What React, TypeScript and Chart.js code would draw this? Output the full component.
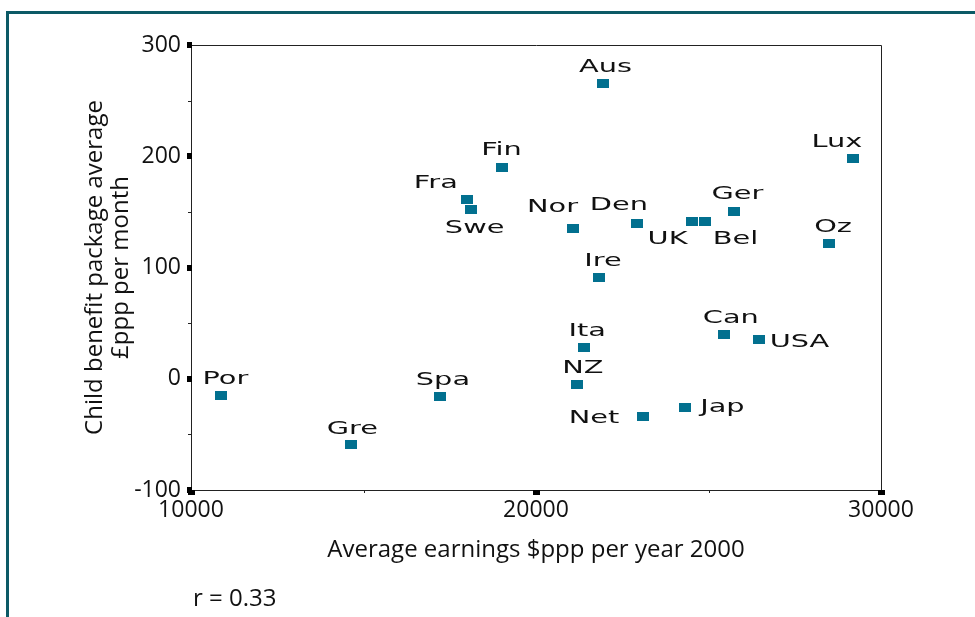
import React, { useEffect, useRef } from 'react';
import { Chart, registerables } from 'chart.js';

Chart.register(...registerables);

const COUNTRIES = ['Por', 'Gre', 'Spa', 'Fra', 'Swe', 'Fin', 'Aus', 'Nor', 'Den', 'UK', 'Bel', 'Ger', 'Lux', 'Oz', 'Ire', 'Ita', 'NZ', 'Can', 'USA', 'Net', 'Jap'];
const EARNINGS = [10880, 14650, 17230, 18010, 18120, 19000, 21930, 21060, 22940, 24510, 24910, 25750, 29200, 28480, 21840, 21380, 21200, 25460, 26450, 23090, 24330];
const BENEFIT = [-15.5, -59, -16, 161.5, 152, 190, 265, 135, 140, 141.5, 141.5, 150.3, 198, 122, 90.6, 28.5, -5, 40, 35, -34, -26];

const X_TICKS = [10000, 20000, 30000];
const Y_TICKS = [-100, 0, 100, 200, 300];
const X_MINOR = [15000, 25000];
const Y_MINOR = [-50, 50, 150, 250];

const X_TITLE = 'Average earnings $ppp per year 2000';
const Y_TITLE = ['Child benefit package average', '£ppp per month'];
const NOTE = 'r = 0.33';

// label placement relative to each marker (text centre offset, px)
const LABEL_OFFSETS: Record<string, [number, number]> = {
  Por: [4, -18], Gre: [1, -17], Spa: [2.5, -18], Fra: [-31.5, -18], Swe: [3.5, 16.5],
  Fin: [0, -19], Aus: [3, -18], Nor: [-20, -23.5], Den: [-18.5, -20], UK: [-24, 16],
  Bel: [30, 16], Ger: [3, -19], Lux: [-16.5, -18], Oz: [4.5, -18], Ire: [3.5, -18],
  Ita: [3.5, -18], NZ: [5.5, -18], Can: [6.5, -18], USA: [41, 1], Net: [-48.5, 0], Jap: [37, -2],
};

const MARKER_COLOR = '#02708f';
const AXIS_COLOR = '#222222';
const TEXT_COLOR = '#111111';
const UI_FONT = '"Open Sans", "Noto Sans", sans-serif';

export default function App() {
  const canvasRef = useRef<HTMLCanvasElement | null>(null);

  useEffect(() => {
    const canvas = canvasRef.current;
    if (!canvas) return;

    const marker = document.createElement('canvas');
    marker.width = 12;
    marker.height = 9;
    const mctx = marker.getContext('2d')!;
    mctx.fillStyle = MARKER_COLOR;
    mctx.fillRect(0, 0, 12, 9);

    const overlay = {
      id: 'overlay',
      afterDraw(chart: any) {
        const { ctx, chartArea, scales } = chart;
        const xs = scales.x;
        const ys = scales.y;
        const { left, right, top, bottom } = chartArea;
        ctx.save();
        // box
        ctx.strokeStyle = AXIS_COLOR;
        ctx.lineWidth = 1;
        ctx.beginPath();
        ctx.moveTo(left + 0.5, top + 0.5);
        ctx.lineTo(right + 0.5, top + 0.5);
        ctx.lineTo(right + 0.5, bottom + 0.5);
        ctx.lineTo(left + 0.5, bottom + 0.5);
        ctx.closePath();
        ctx.stroke();
        // major ticks
        ctx.fillStyle = '#000';
        Y_TICKS.forEach((v) => {
          const y = Math.round(ys.getPixelForValue(v));
          ctx.fillRect(left - 4, y - 3, 5, 6);
        });
        X_TICKS.forEach((v) => {
          const x = Math.round(xs.getPixelForValue(v));
          ctx.fillRect(x - 3, bottom, 7, 5);
        });
        // minor ticks
        ctx.beginPath();
        Y_MINOR.forEach((v) => {
          const y = Math.round(ys.getPixelForValue(v)) + 0.5;
          ctx.moveTo(left - 3, y);
          ctx.lineTo(left, y);
        });
        X_MINOR.forEach((v) => {
          const x = Math.round(xs.getPixelForValue(v)) + 0.5;
          ctx.moveTo(x, bottom);
          ctx.lineTo(x, bottom + 3);
        });
        ctx.stroke();

        // point labels
        ctx.fillStyle = TEXT_COLOR;
        ctx.font = '18px "DejaVu Sans"';
        ctx.textAlign = 'center';
        ctx.textBaseline = 'alphabetic';
        COUNTRIES.forEach((name, i) => {
          const px = xs.getPixelForValue(EARNINGS[i]);
          const py = ys.getPixelForValue(BENEFIT[i]);
          const [dx, dy] = LABEL_OFFSETS[name] || [0, -18];
          ctx.save();
          ctx.translate(px + dx, py + dy + 6.5);
          ctx.scale(1.6, 1);
          ctx.fillText(name, 0, 0);
          ctx.restore();
        });

        // axis titles
        ctx.font = `24px ${UI_FONT}`;
        ctx.textAlign = 'center';
        ctx.fillText(X_TITLE, (left + right) / 2, 557);
        const cy = (top + bottom) / 2;
        const baselines = [102, 128];
        Y_TITLE.forEach((line, i) => {
          ctx.save();
          ctx.translate(baselines[i], cy);
          ctx.rotate(-Math.PI / 2);
          ctx.fillText(line, 0, 0);
          ctx.restore();
        });
        ctx.textAlign = 'left';
        ctx.fillText(NOTE, 193, 606);
        ctx.restore();
      },
    };

    const chart = new Chart(canvas, {
      type: 'scatter',
      data: {
        datasets: [
          {
            label: 'Countries',
            data: EARNINGS.map((x, i) => ({ x, y: BENEFIT[i] })),
            pointStyle: marker as any,
            pointRadius: 6,
            pointHoverRadius: 6,
            backgroundColor: MARKER_COLOR,
            borderColor: MARKER_COLOR,
          },
        ],
      },
      options: {
        animation: false,
        responsive: false,
        maintainAspectRatio: false,
        devicePixelRatio: 1,
        events: [],
        layout: { padding: { left: 0, top: 45, right: 94, bottom: 0 } },
        plugins: { legend: { display: false }, tooltip: { enabled: false }, title: { display: false } },
        scales: {
          x: {
            type: 'linear',
            min: 10000,
            max: 30000,
            afterFit: (s: any) => { s.height = 127; },
            afterBuildTicks: (s: any) => { s.ticks = X_TICKS.map((v) => ({ value: v })); },
            grid: { display: false, drawTicks: false },
            border: { display: false },
            ticks: {
              padding: 7,
              color: TEXT_COLOR,
              font: { family: UI_FONT, size: 23 },
              callback: (v: any) => String(v),
              maxRotation: 0,
            },
          },
          y: {
            type: 'linear',
            min: -100,
            max: 300,
            afterFit: (s: any) => { s.width = 191; },
            afterBuildTicks: (s: any) => { s.ticks = Y_TICKS.map((v) => ({ value: v })); },
            grid: { display: false, drawTicks: false },
            border: { display: false },
            ticks: {
              padding: 10,
              color: TEXT_COLOR,
              font: { family: UI_FONT, size: 23 },
              callback: (v: any) => String(v),
            },
          },
        },
      },
      plugins: [overlay],
    });

    return () => chart.destroy();
  }, []);

  return (
    <>
      <div
        style={{
          position: 'fixed',
          left: 6,
          top: 11,
          width: 2000,
          height: 2000,
          borderTop: '3px solid #0c5a66',
          borderLeft: '3px solid #0c5a66',
          boxSizing: 'border-box',
        }}
      />
      <canvas
        ref={canvasRef}
        width={975}
        height={617}
        style={{ position: 'fixed', left: 0, top: 0, width: 975, height: 617 }}
      />
    </>
  );
}
